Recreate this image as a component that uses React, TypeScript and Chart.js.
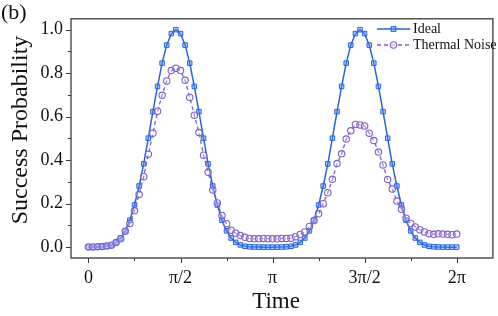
import React, { useEffect, useRef } from "react";
import { Chart, registerables } from "chart.js";

Chart.register(...registerables);

// Time grid: 81 samples from 0 to 2π (step π/40)
const SAMPLE_COUNT = 81;
const TIME: number[] = Array.from({ length: SAMPLE_COUNT }, (_, i) => (i * Math.PI) / 40);

const IDEAL: number[] = [
  0, 0.0001, 0.0005, 0.0015, 0.004, 0.01, 0.022, 0.042, 0.075, 0.124,
  0.194, 0.281, 0.383, 0.501, 0.623, 0.739, 0.846, 0.929, 0.982, 1.0,
  0.982, 0.929, 0.846, 0.739, 0.623, 0.501, 0.383, 0.281, 0.194, 0.124,
  0.075, 0.042, 0.022, 0.01, 0.004, 0.0015, 0.0005, 0.0001, 0, 0,
  0, 0.0001, 0.0005, 0.0015, 0.004, 0.01, 0.022, 0.042, 0.075, 0.124,
  0.194, 0.281, 0.383, 0.501, 0.623, 0.739, 0.846, 0.929, 0.982, 1.0,
  0.982, 0.929, 0.846, 0.739, 0.623, 0.501, 0.383, 0.281, 0.194, 0.124,
  0.075, 0.042, 0.022, 0.01, 0.004, 0.0015, 0.0005, 0.0001, 0, 0,
  0,
];

const THERMAL: number[] = [
  0.001, 0.001, 0.002, 0.003, 0.005, 0.009, 0.021, 0.039, 0.073, 0.109,
  0.167, 0.242, 0.324, 0.427, 0.524, 0.625, 0.698, 0.764, 0.812, 0.823,
  0.812, 0.767, 0.688, 0.607, 0.527, 0.423, 0.344, 0.263, 0.203, 0.145,
  0.108, 0.078, 0.064, 0.053, 0.045, 0.04, 0.038, 0.038, 0.04, 0.039,
  0.038, 0.038, 0.04, 0.04, 0.041, 0.048, 0.058, 0.07, 0.095, 0.122,
  0.153, 0.2, 0.25, 0.312, 0.384, 0.429, 0.497, 0.535, 0.564, 0.562,
  0.557, 0.524, 0.49, 0.437, 0.378, 0.311, 0.267, 0.212, 0.174, 0.133,
  0.109, 0.093, 0.08, 0.07, 0.062, 0.059, 0.061, 0.06, 0.059, 0.057,
  0.06,
];

const X_TICKS: number[] = [0, Math.PI / 2, Math.PI, (3 * Math.PI) / 2, 2 * Math.PI];
const X_TICK_LABELS: string[] = ["0", "π/2", "π", "3π/2", "2π"];
const X_MINOR: number[] = [Math.PI / 4, (3 * Math.PI) / 4, (5 * Math.PI) / 4, (7 * Math.PI) / 4];
const Y_TICKS: number[] = [0, 0.2, 0.4, 0.6, 0.8, 1.0];
const Y_MINOR: number[] = [0.1, 0.3, 0.5, 0.7, 0.9];

const SERIES_NAMES = ["Ideal", "Thermal Noise"];
const X_TITLE = "Time";
const Y_TITLE = "Success Probability";
const PANEL = "(b)";

const BLUE = "rgb(38,100,222)";
const BLUE_FILL = "rgba(80,140,240,0.4)";
const PURPLE = "rgb(128,94,200)";
const FRAME = "#3a3a3a";
const SERIF = "'Liberation Serif', 'Times New Roman', serif";

const decorPlugin = {
  id: "decor",
  afterDraw(chart: any) {
    const { ctx, chartArea, scales } = chart;
    const { left, right, top, bottom } = chartArea;
    const xs = scales.x;
    const ys = scales.y;
    ctx.save();
    ctx.strokeStyle = FRAME;
    ctx.lineWidth = 1.3;
    ctx.strokeRect(left, top, right - left, bottom - top);
    ctx.lineWidth = 1;
    ctx.beginPath();
    for (const v of Y_TICKS) {
      const p = Math.round(ys.getPixelForValue(v)) + 0.5;
      ctx.moveTo(left, p);
      ctx.lineTo(left - 5, p);
    }
    for (const v of Y_MINOR) {
      const p = Math.round(ys.getPixelForValue(v)) + 0.5;
      ctx.moveTo(left, p);
      ctx.lineTo(left - 3, p);
    }
    for (const v of X_TICKS) {
      const p = Math.round(xs.getPixelForValue(v)) + 0.5;
      ctx.moveTo(p, bottom);
      ctx.lineTo(p, bottom + 5);
    }
    for (const v of X_MINOR) {
      const p = Math.round(xs.getPixelForValue(v)) + 0.5;
      ctx.moveTo(p, bottom);
      ctx.lineTo(p, bottom + 3);
    }
    ctx.stroke();

    // axis titles
    ctx.fillStyle = "#111";
    ctx.font = `23px ${SERIF}`;
    ctx.textAlign = "center";
    ctx.textBaseline = "alphabetic";
    ctx.fillText(X_TITLE, 276, 308);
    ctx.save();
    ctx.font = `24px ${SERIF}`;
    ctx.translate(27, 130);
    ctx.rotate(-Math.PI / 2);
    ctx.fillText(Y_TITLE, 0, 0);
    ctx.restore();

    // panel label
    ctx.textAlign = "left";
    ctx.font = `22px ${SERIF}`;
    ctx.fillText(PANEL, 1, 19);

    // legend
    const lx0 = 377;
    const lx1 = 410;
    const rows = [29, 45];
    ctx.font = `14px ${SERIF}`;
    ctx.textBaseline = "middle";
    rows.forEach((ry, i) => {
      ctx.save();
      ctx.lineWidth = 1.4;
      if (i === 0) {
        ctx.strokeStyle = BLUE;
        ctx.setLineDash([]);
      } else {
        ctx.strokeStyle = PURPLE;
        ctx.setLineDash([4, 3]);
      }
      ctx.beginPath();
      ctx.moveTo(lx0, ry);
      ctx.lineTo(lx1, ry);
      ctx.stroke();
      ctx.setLineDash([]);
      const mx = (lx0 + lx1) / 2;
      ctx.lineWidth = 1.1;
      if (i === 0) {
        ctx.fillStyle = BLUE_FILL;
        ctx.fillRect(mx - 2.3, ry - 2.3, 4.6, 4.6);
        ctx.strokeRect(mx - 2.3, ry - 2.3, 4.6, 4.6);
      } else {
        ctx.fillStyle = "rgba(255,255,255,0.6)";
        ctx.beginPath();
        ctx.arc(mx, ry, 3.2, 0, Math.PI * 2);
        ctx.fill();
        ctx.stroke();
      }
      ctx.restore();
      ctx.fillStyle = "#111";
      ctx.fillText(SERIES_NAMES[i], 413, ry + 0.5);
    });
    ctx.restore();
  },
};

export default function App() {
  const ref = useRef<HTMLCanvasElement | null>(null);
  useEffect(() => {
    if (!ref.current) return;
    const ideal = TIME.map((t, i) => ({ x: t, y: IDEAL[i] }));
    const thermal = TIME.map((t, i) => ({ x: t, y: THERMAL[i] }));
    const chart = new Chart(ref.current, {
      type: "line",
      data: {
        datasets: [
          {
            label: SERIES_NAMES[1],
            data: thermal,
            borderColor: PURPLE,
            borderWidth: 1.3,
            borderDash: [4, 3],
            pointStyle: "circle",
            pointRadius: 3.2,
            pointBorderWidth: 1.1,
            pointBorderColor: PURPLE,
            pointBackgroundColor: "rgba(255,255,255,0.25)",
            fill: false,
            tension: 0,
            order: 0,
          },
          {
            label: SERIES_NAMES[0],
            data: ideal,
            borderColor: BLUE,
            borderWidth: 1.5,
            pointStyle: "rect",
            pointRadius: 3.2,
            pointBorderWidth: 1,
            pointBorderColor: BLUE,
            pointBackgroundColor: BLUE_FILL,
            fill: false,
            tension: 0,
            order: 1,
          },
        ],
      },
      options: {
        responsive: false,
        animation: false,
        devicePixelRatio: 1,
        layout: { padding: { left: 0, right: 2, top: 14, bottom: 0 } },
        plugins: { legend: { display: false }, tooltip: { enabled: false } },
        scales: {
          x: {
            type: "linear",
            min: -0.298,
            max: 6.901,
            grid: { display: false, drawTicks: false },
            border: { display: false },
            afterBuildTicks: (s: any) => {
              s.ticks = X_TICKS.map((v) => ({ value: v }));
            },
            afterFit: (s: any) => {
              s.height = 58;
            },
            ticks: {
              autoSkip: false,
              maxRotation: 0,
              padding: 9,
              color: "#111",
              font: { family: SERIF, size: 18 },
              callback: (v: any) => {
                const idx = X_TICKS.findIndex((t) => Math.abs(t - v) < 1e-6);
                return idx >= 0 ? X_TICK_LABELS[idx] : "";
              },
            },
          },
          y: {
            type: "linear",
            min: -0.05,
            max: 1.05,
            grid: { display: false, drawTicks: false },
            border: { display: false },
            afterBuildTicks: (s: any) => {
              s.ticks = Y_TICKS.map((v) => ({ value: v }));
            },
            afterFit: (s: any) => {
              s.width = 71;
            },
            ticks: {
              autoSkip: false,
              padding: 8,
              color: "#111",
              font: { family: SERIF, size: 18 },
              callback: (v: any) => Number(v).toFixed(1),
            },
          },
        },
      },
      plugins: [decorPlugin],
    });
    return () => chart.destroy();
  }, []);
  return (
    <div style={{ position: "fixed", left: 0, top: 0, width: 498, height: 316, background: "#fff" }}>
      <canvas ref={ref} width={498} height={316} style={{ width: 498, height: 316 }} />
    </div>
  );
}
